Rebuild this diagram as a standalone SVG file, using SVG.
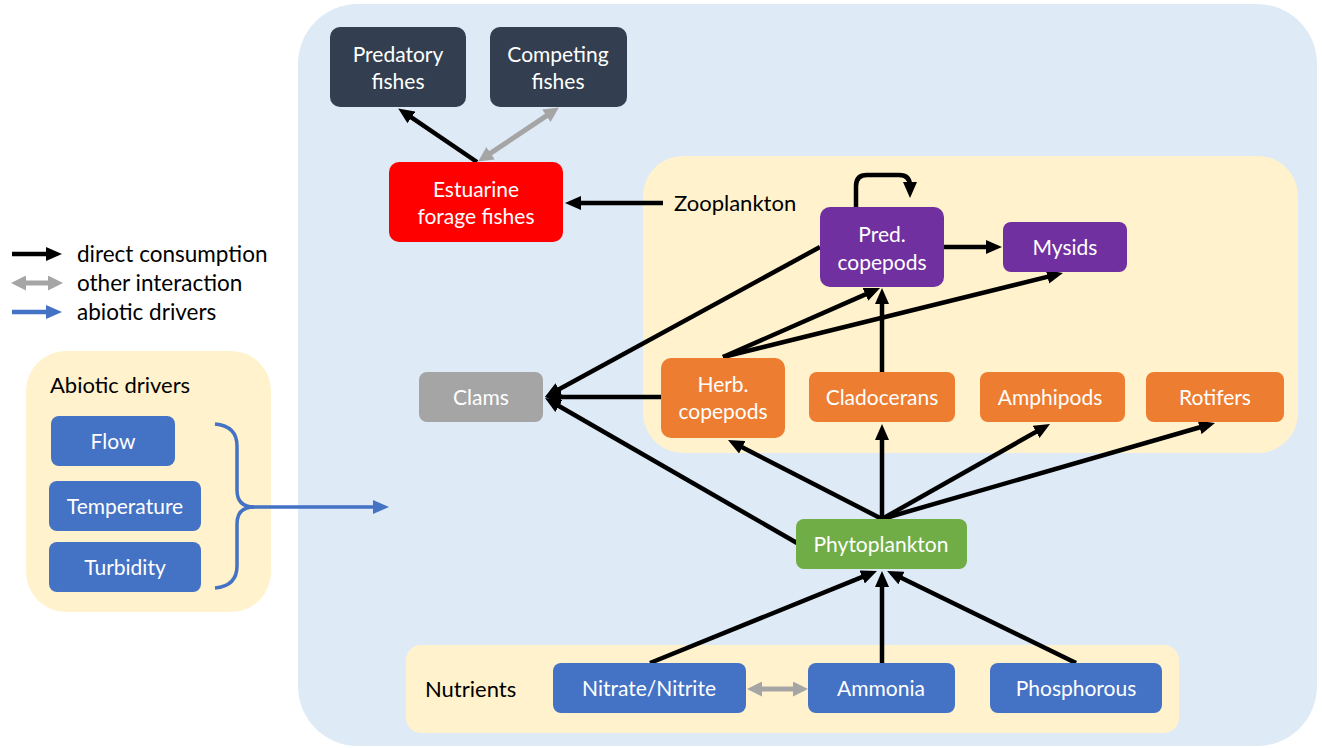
<svg xmlns="http://www.w3.org/2000/svg" width="1322" height="748" viewBox="0 0 1322 748">
<style>
.t{font-family:Lato,"Open Sans",sans-serif;font-size:21px;fill:#fff;text-anchor:middle}
.lab{font-family:Lato,"Open Sans",sans-serif;font-size:22px;fill:#000}
.leg{font-family:Lato,"Open Sans",sans-serif;font-size:22.5px;fill:#000}
.k{stroke:#000;stroke-width:4.5;fill:none}
.g{stroke:#A5A5A5;stroke-width:5;fill:none}
.b{stroke:#4472C4;stroke-width:3.5;fill:none}
</style>
<defs>
<marker id="ak" markerWidth="16" markerHeight="14" refX="5" refY="7" orient="auto" markerUnits="userSpaceOnUse"><path d="M0,0 L16,7 L0,14 z" fill="#000"/></marker>
<marker id="ag" markerWidth="15" markerHeight="15" refX="4" refY="7.5" orient="auto-start-reverse" markerUnits="userSpaceOnUse"><path d="M0,0 L15,7.5 L0,15 z" fill="#A5A5A5"/></marker>
<marker id="ab" markerWidth="16" markerHeight="14" refX="5" refY="7" orient="auto" markerUnits="userSpaceOnUse"><path d="M0,0 L16,7 L0,14 z" fill="#4472C4"/></marker>
</defs>

<g id="containers">
<rect x="298" y="4" width="1019" height="742" rx="60" fill="#DEEAF6"/>
<rect x="643" y="156" width="655" height="297" rx="40" fill="#FFF2CC"/>
<rect x="406" y="645" width="773" height="88" rx="15" fill="#FFF2CC"/>
<rect x="26" y="351" width="245" height="261" rx="40" fill="#FFF2CC"/>
</g>

<g id="legend">
<line x1="12" y1="254" x2="51" y2="254" class="k" marker-end="url(#ak)"/>
<line x1="22" y1="283" x2="52" y2="283" class="g" marker-start="url(#ag)" marker-end="url(#ag)"/>
<line x1="12" y1="312" x2="51" y2="312" class="b" style="stroke-width:4.5" marker-end="url(#ab)"/>
<text x="77" y="262" class="leg">direct consumption</text>
<text x="77" y="291" class="leg">other interaction</text>
<text x="77" y="320" class="leg">abiotic drivers</text>
</g>

<g id="labels">
<text x="674" y="211" class="lab">Zooplankton</text>
<text x="425" y="697" class="lab">Nutrients</text>
<text x="50" y="393" class="lab">Abiotic drivers</text>
</g>

<g id="connectors">
<line x1="477" y1="162" x2="407.3" y2="114.6" class="k" marker-end="url(#ak)"/>
<line x1="487.3" y1="155.4" x2="549.7" y2="113.6" class="g" marker-start="url(#ag)" marker-end="url(#ag)"/>
<line x1="663" y1="203" x2="576" y2="203" class="k" marker-end="url(#ak)"/>
<path d="M856,207 V186 Q856,175 867,175 H899 Q910,175 910,186 V187" class="k" marker-end="url(#ak)"/>
<line x1="944" y1="247" x2="991" y2="247" class="k" marker-end="url(#ak)"/>
<line x1="820" y1="247" x2="554.5" y2="391.8" class="k" marker-end="url(#ak)"/>
<line x1="723" y1="357" x2="870" y2="292.4" class="k" marker-end="url(#ak)"/>
<line x1="723" y1="357" x2="1052.3" y2="275.6" class="k" marker-end="url(#ak)"/>
<line x1="882" y1="372" x2="882" y2="299" class="k" marker-end="url(#ak)"/>
<line x1="661" y1="397" x2="556" y2="397" class="k" marker-end="url(#ak)"/>
<line x1="797" y1="543" x2="554.5" y2="403.5" class="k" marker-end="url(#ak)"/>
<line x1="882" y1="519" x2="737.8" y2="445" class="k" marker-end="url(#ak)"/>
<line x1="882" y1="519" x2="882" y2="435" class="k" marker-end="url(#ak)"/>
<line x1="882" y1="519" x2="1040.4" y2="429.4" class="k" marker-end="url(#ak)"/>
<line x1="882" y1="519" x2="1204.4" y2="426" class="k" marker-end="url(#ak)"/>
<line x1="650" y1="663" x2="866.8" y2="575.1" class="k" marker-end="url(#ak)"/>
<line x1="882" y1="663" x2="882" y2="582" class="k" marker-end="url(#ak)"/>
<line x1="1076" y1="663" x2="897" y2="575.8" class="k" marker-end="url(#ak)"/>
<line x1="758" y1="689" x2="797" y2="689" class="g" marker-start="url(#ag)" marker-end="url(#ag)"/>
<path d="M215,424 Q237,426 237,446 V490 Q237,507 254,507 H378" class="b" marker-end="url(#ab)"/>
<path d="M215,588 Q237,586 237,566 V524 Q237,507 254,507" class="b"/>
</g>

<g id="n-predatory"><rect x="330" y="27" width="136" height="80" rx="10" fill="#333F50"/><text x="398" y="62" class="t">Predatory</text><text x="398" y="89" class="t">fishes</text></g>
<g id="n-competing"><rect x="490" y="27" width="137" height="80" rx="10" fill="#333F50"/><text x="558" y="62" class="t">Competing</text><text x="558" y="89" class="t">fishes</text></g>
<g id="n-forage"><rect x="389" y="162" width="174" height="80" rx="10" fill="#FF0000"/><text x="476" y="197" class="t">Estuarine</text><text x="476" y="224" class="t">forage fishes</text></g>
<g id="n-predcop"><rect x="820" y="207" width="124" height="80" rx="10" fill="#7030A0"/><text x="882" y="242" class="t">Pred.</text><text x="882" y="270" class="t">copepods</text></g>
<g id="n-mysids"><rect x="1003" y="222" width="124" height="50" rx="8" fill="#7030A0"/><text x="1065" y="255" class="t">Mysids</text></g>
<g id="n-herbcop"><rect x="661" y="358" width="124" height="80" rx="10" fill="#ED7D31"/><text x="723" y="392" class="t">Herb.</text><text x="723" y="419" class="t">copepods</text></g>
<g id="n-clado"><rect x="809" y="372" width="146" height="50" rx="8" fill="#ED7D31"/><text x="882" y="405" class="t">Cladocerans</text></g>
<g id="n-amphi"><rect x="980" y="372" width="145" height="50" rx="8" fill="#ED7D31"/><text x="1050" y="405" class="t">Amphipods</text></g>
<g id="n-rotifers"><rect x="1146" y="372" width="138" height="50" rx="8" fill="#ED7D31"/><text x="1215" y="405" class="t">Rotifers</text></g>
<g id="n-clams"><rect x="419" y="372" width="124" height="50" rx="8" fill="#A5A5A5"/><text x="481" y="405" class="t">Clams</text></g>
<g id="n-phyto"><rect x="796" y="519" width="171" height="50" rx="8" fill="#70AD47"/><text x="881" y="552" class="t">Phytoplankton</text></g>
<g id="n-nitrate"><rect x="553" y="663" width="193" height="50" rx="8" fill="#4472C4"/><text x="649" y="696" class="t">Nitrate/Nitrite</text></g>
<g id="n-ammonia"><rect x="808" y="663" width="147" height="50" rx="8" fill="#4472C4"/><text x="881" y="696" class="t">Ammonia</text></g>
<g id="n-phos"><rect x="990" y="663" width="172" height="50" rx="8" fill="#4472C4"/><text x="1076" y="696" class="t">Phosphorous</text></g>
<g id="n-flow"><rect x="51" y="416" width="124" height="50" rx="8" fill="#4472C4"/><text x="113" y="449" class="t">Flow</text></g>
<g id="n-temp"><rect x="49" y="481" width="152" height="50" rx="8" fill="#4472C4"/><text x="125" y="514" class="t">Temperature</text></g>
<g id="n-turb"><rect x="49" y="542" width="152" height="50" rx="8" fill="#4472C4"/><text x="125" y="575" class="t">Turbidity</text></g>
</svg>
